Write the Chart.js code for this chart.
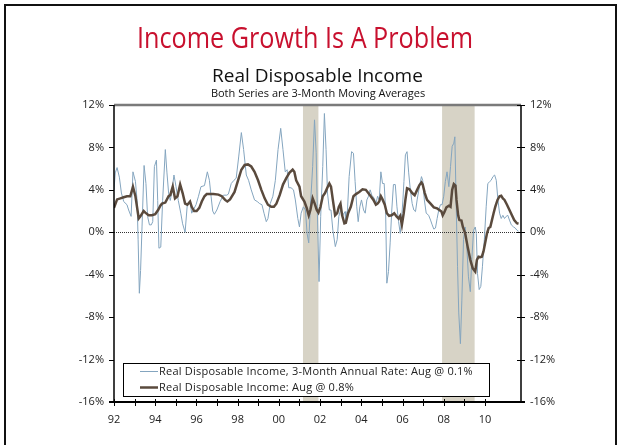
<!DOCTYPE html>
<html>
<head>
<meta charset="utf-8">
<script src="https://cdn.jsdelivr.net/npm/chart.js@4/dist/chart.umd.min.js"></script>
<style>
  html, body { margin: 0; padding: 0; background: #ffffff; }
  #wrap { width: 620px; height: 445px; }
</style>
</head>
<body>
<div id="wrap"><canvas id="c" width="620" height="445"></canvas></div>
<script>
// ---------------- DATA ----------------
const chartTitle = "Income Growth Is A Problem";
const chartSubtitle = "Real Disposable Income";
const chartNote = "Both Series are 3-Month Moving Averages";

const rateLabel = "Real Disposable Income, 3-Month Annual Rate: Aug @ 0.1%";
const yoyLabel = "Real Disposable Income: Aug @ 0.8%";

// Blue series: 3-month annual rate (dates in decimal years, values in %)
const rateDates = [
  1992.00,1992.06,1992.15,1992.26,1992.36,1992.47,1992.63,1992.71,1992.83,1992.92,
  1993.04,1993.12,1993.17,1993.23,1993.29,1993.36,1993.46,1993.55,1993.63,1993.72,
  1993.81,1993.88,1993.96,1994.06,1994.12,1994.18,1994.27,1994.36,1994.49,1994.57,
  1994.65,1994.73,1994.80,1994.91,1995.01,1995.12,1995.24,1995.33,1995.45,1995.56,
  1995.69,1995.77,1995.85,1995.98,1996.10,1996.22,1996.39,1996.53,1996.63,1996.71,
  1996.79,1996.87,1996.99,1997.15,1997.31,1997.47,1997.55,1997.69,1997.82,1997.93,
  1998.05,1998.18,1998.29,1998.42,1998.53,1998.66,1998.82,1998.95,1999.07,1999.18,
  1999.28,1999.39,1999.47,1999.58,1999.71,1999.83,1999.96,2000.09,2000.20,2000.31,
  2000.40,2000.48,2000.59,2000.71,2000.80,2000.92,2001.00,2001.08,2001.19,2001.29,
  2001.37,2001.45,2001.52,2001.64,2001.73,2001.81,2001.87,2001.95,2002.03,2002.13,
  2002.21,2002.29,2002.36,2002.45,2002.53,2002.62,2002.74,2002.83,2002.91,2002.99,
  2003.10,2003.21,2003.25,2003.33,2003.41,2003.53,2003.62,2003.70,2003.78,2003.85,
  2003.93,2004.01,2004.11,2004.19,2004.27,2004.35,2004.43,2004.51,2004.63,2004.71,
  2004.79,2004.87,2004.95,2005.03,2005.11,2005.18,2005.24,2005.32,2005.40,2005.48,
  2005.56,2005.65,2005.73,2005.81,2005.89,2005.95,2006.02,2006.07,2006.14,2006.22,
  2006.30,2006.38,2006.47,2006.55,2006.63,2006.71,2006.82,2006.92,2006.98,2007.06,
  2007.15,2007.27,2007.36,2007.44,2007.52,2007.60,2007.68,2007.76,2007.84,2007.92,
  2008.00,2008.08,2008.16,2008.25,2008.33,2008.41,2008.49,2008.54,2008.60,2008.67,
  2008.73,2008.81,2008.88,2008.96,2009.04,2009.12,2009.20,2009.29,2009.37,2009.45,
  2009.53,2009.58,2009.64,2009.72,2009.80,2009.88,2009.97,2010.06,2010.14,2010.22,
  2010.30,2010.39,2010.47,2010.55,2010.63,2010.71,2010.79,2010.87,2010.95,2011.03,
  2011.11,2011.19,2011.28,2011.39,2011.47,2011.55,2011.63
];
const rateValues = [
  4.0,5.6,6.1,5.2,3.7,2.9,2.6,2.1,1.5,5.7,
  4.8,3.0,-0.7,-5.75,-3.6,0.5,6.3,4.6,1.5,0.7,
  0.7,1.0,6.2,6.8,3.0,-1.5,-1.4,3.0,7.8,5.6,
  3.7,3.0,3.7,5.4,4.3,3.0,1.8,0.8,0.0,2.7,
  2.9,1.8,2.1,2.6,3.4,4.3,4.4,5.7,4.9,3.4,
  2.0,1.7,2.1,2.9,3.5,3.5,3.6,4.6,4.9,5.1,
  7.1,9.4,7.8,5.4,4.9,4.0,3.05,2.9,2.7,2.6,
  1.8,1.0,1.3,2.7,3.4,4.9,7.8,9.8,7.8,5.7,
  5.9,4.2,4.2,4.0,3.05,1.3,0.5,1.8,2.4,2.1,
  -0.1,-1.0,2.1,6.2,10.6,7.5,1.8,-4.65,1.5,6.2,
  11.2,7.8,3.7,2.1,2.1,0.2,-1.35,-0.7,1.5,2.1,
  1.6,1.95,0.85,2.1,5.25,7.6,7.45,4.8,2.4,1.0,
  2.4,3.05,2.1,1.8,3.05,3.4,4.0,3.5,3.2,2.7,
  3.4,3.05,5.7,4.6,4.6,2.1,-4.8,-3.7,-1.0,2.1,
  4.5,4.5,2.4,1.0,-0.1,1.15,3.05,4.8,7.3,7.6,
  5.6,4.0,2.7,2.1,1.95,3.05,4.3,5.25,4.9,3.05,
  1.8,1.6,1.15,0.7,0.3,0.4,1.3,2.1,2.6,2.6,
  3.4,4.8,5.7,4.3,6.2,8.1,8.4,9.0,3.05,-3.2,
  -7.6,-10.5,-6.4,-0.7,0.5,-1.35,-4.2,-5.6,-2.3,0.2,
  0.5,-0.1,-3.9,-5.4,-5.1,-3.2,-0.7,2.4,4.6,4.75,
  4.9,5.25,5.4,4.9,3.05,1.8,1.3,1.6,1.3,1.5,
  1.6,1.15,0.7,0.5,0.4,0.2,0.1
];

// Brown series: year-over-year rate (dates in decimal years, values in %)
const yoyDates = [
  1992.00,1992.15,1992.31,1992.47,1992.63,1992.79,1992.92,1993.04,1993.20,1993.28,
  1993.44,1993.52,1993.68,1993.84,1994.00,1994.14,1994.25,1994.33,1994.49,1994.65,
  1994.73,1994.85,1994.96,1995.08,1995.21,1995.33,1995.45,1995.56,1995.69,1995.77,
  1995.89,1996.01,1996.14,1996.26,1996.39,1996.50,1996.66,1996.82,1997.07,1997.23,
  1997.39,1997.50,1997.63,1997.85,1998.02,1998.18,1998.34,1998.50,1998.66,1998.82,
  1998.99,1999.15,1999.31,1999.47,1999.63,1999.76,1999.88,2000.04,2000.20,2000.36,
  2000.51,2000.67,2000.75,2000.84,2001.00,2001.08,2001.24,2001.35,2001.45,2001.53,
  2001.64,2001.74,2001.84,2001.92,2002.02,2002.13,2002.24,2002.34,2002.45,2002.53,
  2002.62,2002.73,2002.83,2002.91,2002.99,2003.07,2003.18,2003.25,2003.36,2003.49,
  2003.62,2003.74,2003.90,2004.06,2004.22,2004.34,2004.46,2004.59,2004.71,2004.79,
  2004.87,2004.95,2005.03,2005.14,2005.24,2005.35,2005.47,2005.60,2005.71,2005.81,
  2005.89,2005.97,2006.06,2006.14,2006.22,2006.34,2006.47,2006.59,2006.71,2006.82,
  2006.92,2006.98,2007.08,2007.19,2007.36,2007.52,2007.68,2007.79,2007.89,2007.95,
  2008.03,2008.13,2008.25,2008.33,2008.41,2008.49,2008.57,2008.62,2008.70,2008.76,
  2008.86,2008.93,2009.04,2009.16,2009.29,2009.41,2009.53,2009.61,2009.69,2009.77,
  2009.85,2009.93,2010.01,2010.10,2010.18,2010.26,2010.34,2010.42,2010.50,2010.61,
  2010.71,2010.79,2010.87,2010.95,2011.07,2011.19,2011.31,2011.42,2011.55,2011.63
];
const yoyValues = [
  2.3,3.1,3.2,3.3,3.4,3.4,4.3,3.4,1.3,1.5,
  2.0,1.85,1.6,1.6,1.7,2.1,2.5,2.7,2.8,3.4,
  3.5,4.3,3.2,3.4,4.5,3.7,2.7,2.6,2.9,2.4,
  2.0,2.0,2.3,2.9,3.4,3.6,3.6,3.6,3.55,3.4,
  3.05,2.9,3.1,3.8,4.9,5.9,6.35,6.4,6.2,5.7,
  4.9,4.0,3.2,2.6,2.4,2.4,2.7,3.5,4.5,5.1,
  5.6,5.9,5.7,4.9,4.3,3.4,2.9,2.3,1.6,2.1,
  3.2,2.7,2.1,1.85,2.4,3.4,3.7,4.15,4.6,4.3,
  3.05,1.6,1.8,2.4,2.7,1.6,0.85,0.9,1.8,2.4,
  3.4,3.6,3.8,4.05,4.0,3.7,3.4,3.05,2.6,2.7,
  2.9,3.4,3.1,2.6,1.8,1.55,1.6,1.8,1.5,1.3,
  1.55,0.7,1.8,3.05,4.15,4.05,3.7,3.5,4.0,4.45,
  4.7,4.5,3.7,3.05,2.7,2.35,2.25,2.1,1.95,1.6,
  1.9,2.35,2.5,2.4,4.0,4.55,4.4,3.05,1.6,1.15,
  1.1,0.5,-0.1,-1.35,-2.6,-3.4,-3.7,-2.6,-2.3,-2.35,
  -2.3,-1.8,-1.0,-0.1,0.4,0.5,1.15,1.8,2.4,3.05,
  3.4,3.45,3.2,3.05,2.6,2.1,1.6,1.15,0.85,0.8
];

// Recession periods (decimal years)
const recessionStarts = [2001.17, 2007.92];
const recessionEnds   = [2001.92, 2009.50];

// Axis settings
const xMin = 1992, xMax = 2011.75;
const yMin = -16, yMax = 12, yStep = 4;

// ---------------- STYLE ----------------
const FONT = "'Open Sans', 'Liberation Sans', sans-serif";
const rateColor = "#84A5BF";
const yoyColor = "#5A4A3D";
const shadeColor = "#D7D3C6";
const titleColor = "#C8102E";
const textColor = "#222222";

const toPoints = (xs, ys) => xs.map((x, i) => ({ x: x, y: ys[i] }));

const decorPlugin = {
  id: 'decor',
  beforeDatasetsDraw(chart) {
    const { ctx, chartArea: a, scales } = chart;
    const xs = scales.x, ys = scales.y;
    ctx.save();
    ctx.fillStyle = shadeColor;
    for (let i = 0; i < recessionStarts.length; i++) {
      const x0 = xs.getPixelForValue(recessionStarts[i]);
      const x1 = xs.getPixelForValue(recessionEnds[i]);
      ctx.fillRect(x0, a.top, x1 - x0, a.bottom - a.top);
    }
    // zero line (dotted)
    const y0 = Math.round(ys.getPixelForValue(0)) + 0.5;
    ctx.strokeStyle = "#333333";
    ctx.lineWidth = 1;
    ctx.setLineDash([1, 1]);
    ctx.beginPath();
    ctx.moveTo(a.left, y0);
    ctx.lineTo(a.right, y0);
    ctx.stroke();
    ctx.restore();
  },
  afterDatasetsDraw(chart) {
    const { ctx, chartArea: a, scales } = chart;
    const xs = scales.x, ys = scales.y;
    ctx.save();
    // top border (gray)
    ctx.strokeStyle = "#7a7a7a";
    ctx.lineWidth = 2.5;
    ctx.beginPath();
    ctx.moveTo(a.left, a.top);
    ctx.lineTo(a.right, a.top);
    ctx.stroke();
    // left & right axes
    ctx.strokeStyle = "#000000";
    ctx.lineWidth = 1.5;
    ctx.beginPath();
    ctx.moveTo(a.left, a.top);
    ctx.lineTo(a.left, a.bottom);
    ctx.moveTo(a.right, a.top);
    ctx.lineTo(a.right, a.bottom);
    ctx.stroke();
    // bottom axis
    ctx.lineWidth = 2;
    ctx.beginPath();
    ctx.moveTo(a.left - 5, a.bottom);
    ctx.lineTo(a.right + 4, a.bottom);
    ctx.stroke();
    // y ticks
    ctx.lineWidth = 1;
    ctx.beginPath();
    ys.ticks.forEach(t => {
      const y = Math.round(ys.getPixelForValue(t.value)) + 0.5;
      ctx.moveTo(a.left - 5, y); ctx.lineTo(a.left, y);
      ctx.moveTo(a.right - 4, y); ctx.lineTo(a.right + 4, y);
    });
    // x ticks
    xs.ticks.forEach(t => {
      if (!Number.isInteger(t.value)) return;
      const x = Math.round(xs.getPixelForValue(t.value)) + 0.5;
      ctx.moveTo(x, a.bottom - 3); ctx.lineTo(x, a.bottom + 4);
    });
    ctx.stroke();

    // legend box
    const bx = 123, by = 363, bw = 366, bh = 33;
    ctx.fillStyle = "#ffffff";
    ctx.fillRect(bx, by, bw, bh);
    ctx.strokeStyle = "#000000";
    ctx.lineWidth = 1;
    ctx.strokeRect(bx + 0.5, by + 0.5, bw, bh);
    const items = [
      { label: chart.data.datasets[1].label, color: chart.data.datasets[1].borderColor, w: 1 },
      { label: chart.data.datasets[0].label, color: chart.data.datasets[0].borderColor, w: 2.5 }
    ];
    ctx.font = "11px " + FONT;
    ctx.letterSpacing = "0.22px";
    ctx.textBaseline = "middle";
    ctx.textAlign = "left";
    items.forEach((it, i) => {
      const y = by + 8.5 + i * 16;
      ctx.strokeStyle = it.color;
      ctx.lineWidth = it.w;
      ctx.beginPath();
      ctx.moveTo(140, y);
      ctx.lineTo(158, y);
      ctx.stroke();
      ctx.fillStyle = textColor;
      ctx.fillText(it.label, 159, y + 0.5);
    });
    ctx.restore();
  },
  afterDraw(chart) {
    const { ctx } = chart;
    ctx.save();
    ctx.textAlign = "center";
    ctx.textBaseline = "alphabetic";
    ctx.fillStyle = titleColor;
    ctx.font = "29px " + FONT;
    ctx.fillText(chartTitle, 305, 48, 336);
    ctx.fillStyle = "#111111";
    ctx.font = "19px " + FONT;
    ctx.fillText(chartSubtitle, 317.5, 82, 218);
    ctx.font = "11px " + FONT;
    ctx.fillText(chartNote, 318, 97, 234);
    // outer frame
    ctx.strokeStyle = "#111111";
    ctx.lineWidth = 2;
    ctx.beginPath();
    ctx.moveTo(5, 460);
    ctx.lineTo(5, 5);
    ctx.lineTo(616, 5);
    ctx.lineTo(616, 460);
    ctx.stroke();
    ctx.restore();
  }
};

new Chart(document.getElementById('c'), {
  type: 'line',
  data: {
    datasets: [
      {
        label: yoyLabel,
        data: toPoints(yoyDates, yoyValues),
        borderColor: yoyColor,
        borderWidth: 2.5,
        pointRadius: 0,
        tension: 0,
        order: 0,
        yAxisID: 'y'
      },
      {
        label: rateLabel,
        data: toPoints(rateDates, rateValues),
        borderColor: rateColor,
        borderWidth: 1,
        pointRadius: 0,
        tension: 0,
        order: 1,
        yAxisID: 'y'
      }
    ]
  },
  options: {
    responsive: false,
    animation: false,
    devicePixelRatio: 1,
    layout: { padding: { top: 105, left: 0, right: 0, bottom: 0 } },
    plugins: {
      legend: { display: false },
      title: { display: false },
      tooltip: { enabled: false }
    },
    scales: {
      x: {
        type: 'linear',
        min: xMin,
        max: xMax,
        grid: { display: false, drawTicks: false },
        border: { display: false },
        afterFit(s) { s.height = 43; },
        ticks: {
          stepSize: 1,
          autoSkip: false,
          maxRotation: 0,
          padding: 11,
          color: textColor,
          font: { family: FONT, size: 11 },
          callback: (v) => (Number.isInteger(v) && v % 2 === 0 && v <= 2010) ? String(v).slice(2) : ''
        }
      },
      y: {
        position: 'left',
        min: yMin,
        max: yMax,
        grid: { display: false, drawTicks: false },
        border: { display: false },
        afterFit(s) { s.width = 114; },
        ticks: {
          stepSize: yStep,
          padding: 10,
          color: textColor,
          font: { family: FONT, size: 11 },
          callback: (v) => v + '%'
        }
      },
      y2: {
        position: 'right',
        min: yMin,
        max: yMax,
        grid: { display: false, drawTicks: false },
        border: { display: false },
        afterFit(s) { s.width = 99; },
        ticks: {
          stepSize: yStep,
          padding: 9,
          color: textColor,
          font: { family: FONT, size: 11 },
          callback: (v) => v + '%'
        }
      }
    }
  },
  plugins: [decorPlugin]
});
</script>
</body>
</html>
